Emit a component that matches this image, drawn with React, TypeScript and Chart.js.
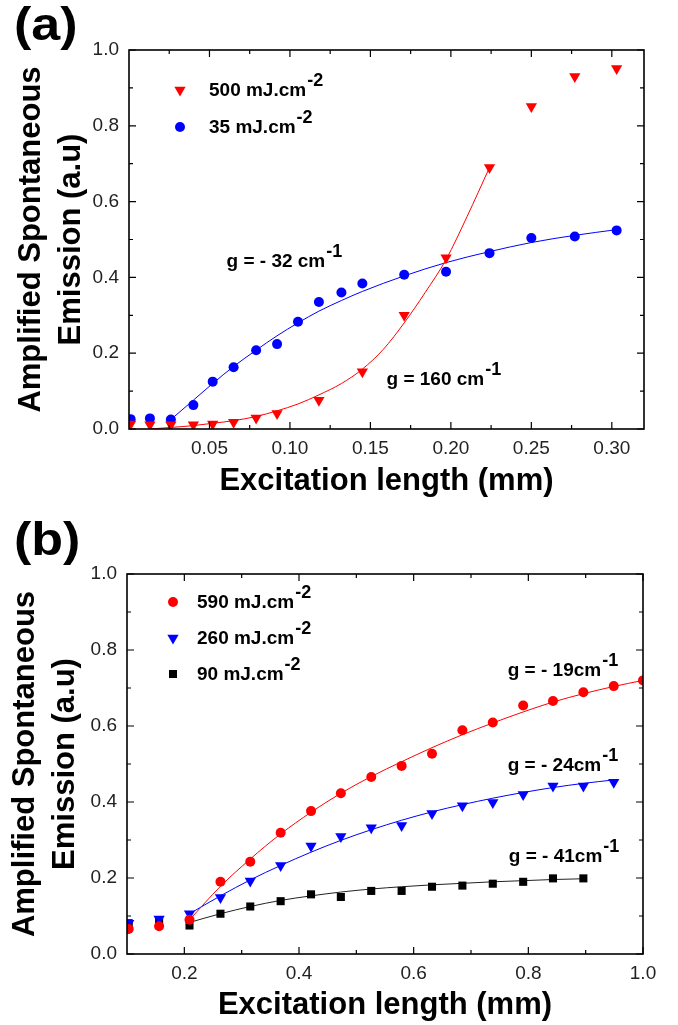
import React, { useEffect, useRef } from "react";
import { Chart, registerables } from "chart.js";

Chart.register(...registerables);

const FONT = "'Liberation Sans', Arial, Helvetica, sans-serif";

// ---------- Panel (a) data ----------
const a500X = [0.001, 0.013, 0.026, 0.04, 0.052, 0.065, 0.079, 0.092, 0.118, 0.145, 0.171, 0.197, 0.224, 0.25, 0.277, 0.303];
const a500Y = [0.013, 0.011, 0.011, 0.011, 0.013, 0.018, 0.029, 0.041, 0.076, 0.151, 0.3, 0.452, 0.69, 0.851, 0.93, 0.951];
const a35X = [0.001, 0.013, 0.026, 0.04, 0.052, 0.065, 0.079, 0.092, 0.105, 0.118, 0.132, 0.145, 0.171, 0.197, 0.224, 0.25, 0.277, 0.303];
const a35Y = [0.026, 0.028, 0.025, 0.063, 0.125, 0.163, 0.208, 0.224, 0.283, 0.335, 0.36, 0.384, 0.407, 0.415, 0.464, 0.504, 0.508, 0.524];
const a500FitX = [0.013, 0.026, 0.04, 0.052, 0.065, 0.079, 0.092, 0.105, 0.118, 0.132, 0.145, 0.158, 0.171, 0.184, 0.197, 0.21, 0.224];
const a500FitY = [0.0, 0.004, 0.009, 0.015, 0.022, 0.033, 0.048, 0.066, 0.09, 0.12, 0.158, 0.21, 0.28, 0.36, 0.447, 0.56, 0.69];
const a35FitX = [0.026, 0.04, 0.052, 0.065, 0.079, 0.092, 0.105, 0.118, 0.132, 0.145, 0.171, 0.197, 0.224, 0.25, 0.277, 0.303];
const a35FitY = [0.025, 0.076, 0.12, 0.165, 0.208, 0.246, 0.28, 0.311, 0.339, 0.363, 0.404, 0.439, 0.468, 0.492, 0.511, 0.526];
const aXTicks = [0.05, 0.1, 0.15, 0.2, 0.25, 0.3];
const aXMinor = [0.025, 0.075, 0.125, 0.175, 0.225, 0.275];
const aLegendLabels = ["500 mJ.cm", "35 mJ.cm"];
const aNoteText = ["g = - 32 cm", "g = 160 cm"];
const aNoteX = [0.0606, 0.16];
const aNoteY = [0.427, 0.116];

// ---------- Panel (b) data ----------
const bX = [0.103, 0.156, 0.209, 0.263, 0.315, 0.368, 0.421, 0.473, 0.526, 0.579, 0.632, 0.685, 0.738, 0.791, 0.843, 0.896, 0.949, 1.0];
const b590Y = [0.066, 0.073, 0.09, 0.19, 0.243, 0.319, 0.376, 0.423, 0.466, 0.495, 0.527, 0.589, 0.609, 0.654, 0.666, 0.689, 0.705, 0.72];
const b260Y = [0.081, 0.092, 0.106, 0.149, 0.192, 0.233, 0.284, 0.309, 0.332, 0.338, 0.37, 0.39, 0.399, 0.42, 0.442, 0.442, 0.452];
const b90Y = [0.081, 0.084, 0.075, 0.106, 0.125, 0.139, 0.157, 0.15, 0.166, 0.166, 0.177, 0.18, 0.185, 0.19, 0.199, 0.199];
const bFitX = [0.209, 0.263, 0.315, 0.368, 0.421, 0.473, 0.526, 0.579, 0.632, 0.685, 0.738, 0.791, 0.843, 0.896, 0.949, 1.0];
const b590FitY = [0.09, 0.178, 0.25, 0.316, 0.373, 0.423, 0.467, 0.506, 0.543, 0.577, 0.608, 0.637, 0.663, 0.685, 0.704, 0.72];
const b260FitY = [0.106, 0.153, 0.195, 0.233, 0.268, 0.299, 0.327, 0.352, 0.374, 0.393, 0.41, 0.425, 0.438, 0.449, 0.458];
const b90FitY = [0.083, 0.106, 0.125, 0.141, 0.153, 0.163, 0.171, 0.177, 0.182, 0.186, 0.19, 0.193, 0.196, 0.198];
const bXTicks = [0.2, 0.4, 0.6, 0.8, 1.0];
const bXMinor = [0.3, 0.5, 0.7, 0.9];
const bLegendLabels = ["590 mJ.cm", "260 mJ.cm", "90 mJ.cm"];
const bNoteText = ["g = - 19cm", "g = - 24cm", "g = - 41cm"];
const bNoteX = [0.764, 0.764, 0.766];
const bNoteY = [0.732, 0.482, 0.241];

const yTicks = [0, 0.2, 0.4, 0.6, 0.8, 1.0];
const yMinor = [0.1, 0.3, 0.5, 0.7, 0.9];
const yTitle = ["Amplified Spontaneous", "Emission (a.u)"];
const xTitle = "Excitation length (mm)";

const RED = "#ff0000";
const BLUE = "#0000ff";
const BLACK = "#000000";

const pts = (xs: number[], ys: number[]) => ys.map((y, i) => ({ x: xs[i], y }));

function drawMarker(ctx: CanvasRenderingContext2D, style: string, x: number, y: number, color: string) {
  ctx.save();
  ctx.fillStyle = color;
  ctx.beginPath();
  if (style === "circle") {
    ctx.arc(x, y, 5, 0, Math.PI * 2);
  } else if (style === "triangle") {
    const r = 6.5;
    ctx.moveTo(x, y + r);
    ctx.lineTo(x - r * 0.866, y - r / 2);
    ctx.lineTo(x + r * 0.866, y - r / 2);
    ctx.closePath();
  } else {
    const s = 5.7 * Math.SQRT1_2;
    ctx.rect(x - s, y - s, 2 * s, 2 * s);
  }
  ctx.fill();
  ctx.restore();
}

function drawSup(ctx: CanvasRenderingContext2D, x: number, y: number, main: string, sup: string) {
  ctx.font = `bold 19px ${FONT}`;
  ctx.textBaseline = "alphabetic";
  ctx.textAlign = "left";
  ctx.fillStyle = "#000";
  ctx.fillText(main, x, y);
  const w = ctx.measureText(main).width;
  ctx.font = `bold 18px ${FONT}`;
  ctx.fillText(sup, x + w + 1, y - 10);
}

type PanelCfg = {
  label: string;
  xMin: number;
  xMax: number;
  xTicks: number[];
  xMinor: number[];
  xDecimals: number;
  padTop: number;
  padRight: number;
  yAxisW: number;
  xAxisH: number;
  yTitlePad: number;
  xTitlePad: number;
  legend: { style: string; color: string; text: string }[];
  legendDX: number;
  legendDY: number;
  legendRow: number;
  legendTextDX: number;
  notes: { text: string; x: number; y: number }[];
  labelY: number;
  datasets: any[];
};

function makeDecor(cfg: PanelCfg) {
  return {
    id: "decor",
    afterDatasetsDraw(chart: any) {
      const { ctx, chartArea: ca, scales } = chart;
      const xs = scales.x;
      const ys = scales.y;
      ctx.save();
      ctx.strokeStyle = "#000";
      ctx.lineWidth = 1.2;
      ctx.beginPath();
      const xt = (v: number, len: number) => {
        const p = xs.getPixelForValue(v);
        ctx.moveTo(p, ca.bottom);
        ctx.lineTo(p, ca.bottom - len);
        ctx.moveTo(p, ca.top);
        ctx.lineTo(p, ca.top + len);
      };
      const yt = (v: number, len: number) => {
        const p = ys.getPixelForValue(v);
        ctx.moveTo(ca.left, p);
        ctx.lineTo(ca.left + len, p);
        ctx.moveTo(ca.right, p);
        ctx.lineTo(ca.right - len, p);
      };
      cfg.xTicks.forEach((v) => xt(v, 7));
      cfg.xMinor.forEach((v) => xt(v, 4));
      yTicks.forEach((v) => yt(v, 7));
      yMinor.forEach((v) => yt(v, 4));
      ctx.stroke();
      ctx.lineWidth = 1.6;
      ctx.strokeRect(ca.left, ca.top, ca.right - ca.left, ca.bottom - ca.top);

      // legend
      cfg.legend.forEach((item, i) => {
        const mx = ca.left + cfg.legendDX;
        const my = ca.top + cfg.legendDY + i * cfg.legendRow;
        drawMarker(ctx, item.style, mx, my, item.color);
        drawSup(ctx, mx + cfg.legendTextDX, my + 5.5, item.text, "-2");
      });

      // annotations
      cfg.notes.forEach((n) => {
        drawSup(ctx, xs.getPixelForValue(n.x), ys.getPixelForValue(n.y), n.text, "-1");
      });

      // panel label
      ctx.save();
      ctx.font = `bold 46px ${FONT}`;
      ctx.textBaseline = "middle";
      ctx.textAlign = "left";
      ctx.fillStyle = "#000";
      ctx.translate(14, cfg.labelY);
      ctx.scale(1.13, 1);
      ctx.fillText(cfg.label, 0, 0);
      ctx.restore();
      ctx.restore();
    },
  };
}

function Panel({ cfg, width, height }: { cfg: PanelCfg; width: number; height: number }) {
  const ref = useRef<HTMLCanvasElement | null>(null);
  useEffect(() => {
    if (!ref.current) return;
    const tickFont = { family: FONT, size: 19 };
    const chart = new Chart(ref.current, {
      type: "scatter",
      data: { datasets: cfg.datasets },
      options: {
        responsive: false,
        maintainAspectRatio: false,
        animation: false,
        events: [],
        layout: { padding: { top: cfg.padTop, right: cfg.padRight, left: 0, bottom: 0 } },
        plugins: { legend: { display: false }, tooltip: { enabled: false } },
        scales: {
          x: {
            type: "linear",
            min: cfg.xMin,
            max: cfg.xMax,
            afterBuildTicks: (s: any) => {
              s.ticks = cfg.xTicks.map((v) => ({ value: v }));
            },
            afterFit: (s: any) => {
              s.height = cfg.xAxisH;
            },
            grid: { display: false, drawTicks: false },
            border: { display: false },
            ticks: {
              font: tickFont,
              color: "#222",
              padding: 8,
              maxRotation: 0,
              autoSkip: false,
              callback: (v: any) => Number(v).toFixed(cfg.xDecimals),
            },
            title: {
              display: true,
              text: xTitle,
              color: "#000",
              font: { family: FONT, size: 31, weight: "bold", lineHeight: 1.2 },
              padding: { top: 0, bottom: cfg.xTitlePad },
            },
          },
          y: {
            type: "linear",
            min: 0,
            max: 1,
            afterBuildTicks: (s: any) => {
              s.ticks = yTicks.map((v) => ({ value: v }));
            },
            afterFit: (s: any) => {
              s.width = cfg.yAxisW;
            },
            grid: { display: false, drawTicks: false },
            border: { display: false },
            ticks: {
              font: tickFont,
              color: "#222",
              padding: 10,
              callback: (v: any) => Number(v).toFixed(1),
            },
            title: {
              display: true,
              text: yTitle,
              color: "#000",
              font: { family: FONT, size: 31, weight: "bold", lineHeight: 40 / 31 },
              padding: { top: cfg.yTitlePad, bottom: 0 },
            },
          },
        },
      },
      plugins: [makeDecor(cfg)],
    } as any);
    return () => chart.destroy();
  }, []);
  return <canvas ref={ref} width={width} height={height} style={{ display: "block", width, height }} />;
}

const scatterDs = (data: any[], color: string, style: string, radius: number, rotation = 0) => ({
  type: "scatter",
  data,
  showLine: false,
  pointStyle: style,
  pointRadius: radius,
  pointRotation: rotation,
  backgroundColor: color,
  borderColor: color,
  pointBorderWidth: 0,
  order: 1,
});

const fitDs = (data: any[], color: string) => ({
  type: "line",
  data,
  showLine: true,
  pointRadius: 0,
  borderColor: color,
  borderWidth: 1,
  cubicInterpolationMode: "monotone",
  fill: false,
  order: 2,
});

const cfgA: PanelCfg = {
  label: "(a)",
  xMin: 0,
  xMax: 0.32,
  xTicks: aXTicks,
  xMinor: aXMinor,
  xDecimals: 2,
  padTop: 50,
  padRight: 34,
  yAxisW: 129,
  xAxisH: 81,
  yTitlePad: 11,
  xTitlePad: 10,
  legend: [
    { style: "triangle", color: RED, text: aLegendLabels[0] },
    { style: "circle", color: BLUE, text: aLegendLabels[1] },
  ],
  legendDX: 51,
  legendDY: 40,
  legendRow: 37,
  legendTextDX: 29,
  notes: aNoteText.map((t, i) => ({ text: t, x: aNoteX[i], y: aNoteY[i] })),
  labelY: 27,
  datasets: [
    fitDs(pts(a500FitX, a500FitY), RED),
    fitDs(pts(a35FitX, a35FitY), BLUE),
    scatterDs(pts(a500X, a500Y), RED, "triangle", 6.5, 180),
    scatterDs(pts(a35X, a35Y), BLUE, "circle", 5),
  ],
};

const cfgB: PanelCfg = {
  label: "(b)",
  xMin: 0.1,
  xMax: 1.0,
  xTicks: bXTicks,
  xMinor: bXMinor,
  xDecimals: 1,
  padTop: 64,
  padRight: 35,
  yAxisW: 127,
  xAxisH: 71,
  yTitlePad: 5,
  xTitlePad: 1,
  legend: [
    { style: "circle", color: RED, text: bLegendLabels[0] },
    { style: "triangle", color: BLUE, text: bLegendLabels[1] },
    { style: "rect", color: BLACK, text: bLegendLabels[2] },
  ],
  legendDX: 46,
  legendDY: 28,
  legendRow: 36,
  legendTextDX: 24,
  notes: bNoteText.map((t, i) => ({ text: t, x: bNoteX[i], y: bNoteY[i] })),
  labelY: 32,
  datasets: [
    fitDs(pts(bFitX, b590FitY), RED),
    fitDs(pts(bFitX, b260FitY), BLUE),
    fitDs(pts(bFitX, b90FitY), "#222"),
    scatterDs(pts(bX, b590Y), RED, "circle", 5),
    scatterDs(pts(bX, b260Y), BLUE, "triangle", 6.5, 180),
    scatterDs(pts(bX, b90Y), BLACK, "rect", 5.7),
  ],
};

export default function App() {
  useEffect(() => {
    document.body.style.margin = "0";
  }, []);
  return (
    <div style={{ width: 678, height: 1025, background: "#fff" }}>
      <Panel cfg={cfgA} width={678} height={510} />
      <Panel cfg={cfgB} width={678} height={515} />
    </div>
  );
}
